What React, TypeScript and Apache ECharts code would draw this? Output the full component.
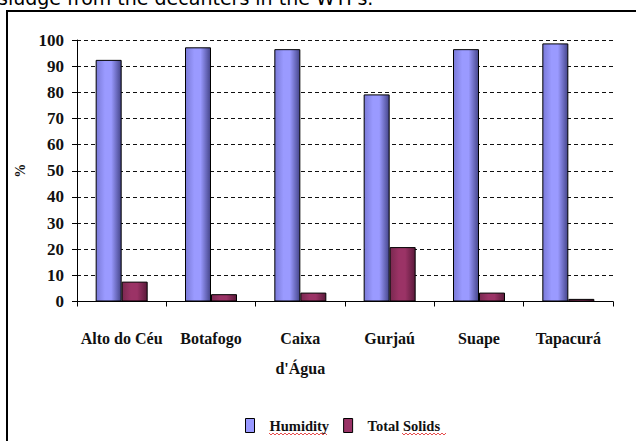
import React, { useEffect, useRef } from "react";
import * as echarts from "echarts";

const categories = ["Alto do Céu", "Botafogo", "Caixa\nd'Água", "Gurjaú", "Suape", "Tapacurá"];
const humidity = [92.4, 97.2, 96.5, 79.2, 96.5, 98.7];
const totalSolids = [7.6, 2.8, 3.4, 20.8, 3.4, 1.0];
const seriesNames = ["Humidity", "Total Solids"];
const yTicks = { min: 0, max: 100, interval: 10 };

function squiggle(x0: number, x1: number, y: number): number[][] {
  const pts: number[][] = [];
  let up = true;
  for (let x = x0; x <= x1; x += 2) {
    pts.push([x, up ? y - 1 : y + 1]);
    up = !up;
  }
  return pts;
}

export default function App() {
  const ref = useRef<HTMLDivElement>(null);
  useEffect(() => {
    if (!ref.current) return;
    const chart = echarts.init(ref.current, null, { renderer: "svg" });
    const serif = "Liberation Serif";
    const grad = (edge: string, light: string, dark: string) =>
      new echarts.graphic.LinearGradient(0, 0, 1, 0, [
        { offset: 0, color: edge },
        { offset: 0.35, color: light },
        { offset: 0.6, color: light },
        { offset: 1, color: dark },
      ]);
    chart.setOption({
      animation: false,
      backgroundColor: "#ffffff",
      grid: { left: 77, right: 23, top: 40, bottom: 139.5 },
      legend: {
        left: 240,
        top: 413,
        itemWidth: 9,
        itemHeight: 14,
        itemGap: 14,
        icon: "rect",
        textStyle: {
          fontFamily: serif,
          fontWeight: "bold",
          fontSize: 14.5,
          color: "#111",
          padding: [0, 0, 0, 10],
        },
        data: [
          { name: seriesNames[0], itemStyle: { color: "#9999ff", borderColor: "#000", borderWidth: 1 } },
          { name: seriesNames[1], itemStyle: { color: "#993366", borderColor: "#000", borderWidth: 1 } },
        ],
      },
      xAxis: {
        type: "category",
        data: categories,
        axisLine: { lineStyle: { color: "#000", width: 1 } },
        axisTick: { show: true, length: 5, lineStyle: { color: "#000" } },
        axisLabel: {
          margin: 22,
          fontFamily: serif,
          fontWeight: "bold",
          fontSize: 16,
          lineHeight: 30,
          color: "#111",
          interval: 0,
        },
      },
      yAxis: {
        type: "value",
        min: yTicks.min,
        max: yTicks.max,
        interval: yTicks.interval,
        name: "%",
        nameLocation: "middle",
        nameGap: 46,
        nameRotate: 90,
        nameTextStyle: { fontFamily: serif, fontWeight: "bold", fontSize: 14, color: "#111" },
        axisLine: { show: true, lineStyle: { color: "#000", width: 1 } },
        axisTick: { show: true, length: 5, lineStyle: { color: "#000" } },
        axisLabel: {
          margin: 13,
          fontFamily: serif,
          fontWeight: "bold",
          fontSize: 17,
          color: "#111",
        },
        splitLine: { show: true, lineStyle: { color: "#111", type: [4, 3], width: 1 } },
      },
      series: [
        {
          name: seriesNames[0],
          type: "bar",
          data: humidity,
          barWidth: 26,
          barGap: "0%",
          itemStyle: { color: grad("#7a7ad8", "#9a9aff", "#45458a"), borderColor: "#000", borderWidth: 1 },
        },
        {
          name: seriesNames[1],
          type: "bar",
          data: totalSolids,
          barWidth: 26,
          barGap: "0%",
          itemStyle: { color: grad("#7a2850", "#9b3366", "#5a1a3a"), borderColor: "#000", borderWidth: 1 },
        },
      ],
      graphic: [
        {
          type: "text",
          left: -2,
          top: -12,
          style: {
            text: "sludge from the decanters in the WTPs.",
            fontFamily: "DejaVu Sans",
            fontSize: 19,
            fill: "#000",
          },
        },
        {
          type: "polyline",
          shape: { points: [[7, 441], [7, 11], [636, 11]] },
          style: { stroke: "#000", lineWidth: 2, fill: "none" },
        },
        {
          type: "polyline",
          shape: { points: squiggle(269, 328, 434) },
          style: { stroke: "#e02020", lineWidth: 0.8, fill: "none" },
        },
        {
          type: "polyline",
          shape: { points: squiggle(402, 447, 434) },
          style: { stroke: "#e02020", lineWidth: 0.8, fill: "none" },
        },
      ],
    });
    return () => chart.dispose();
  }, []);
  return (
    <div
      ref={ref}
      style={{ position: "fixed", left: 0, top: 0, width: 636, height: 441 }}
    />
  );
}
